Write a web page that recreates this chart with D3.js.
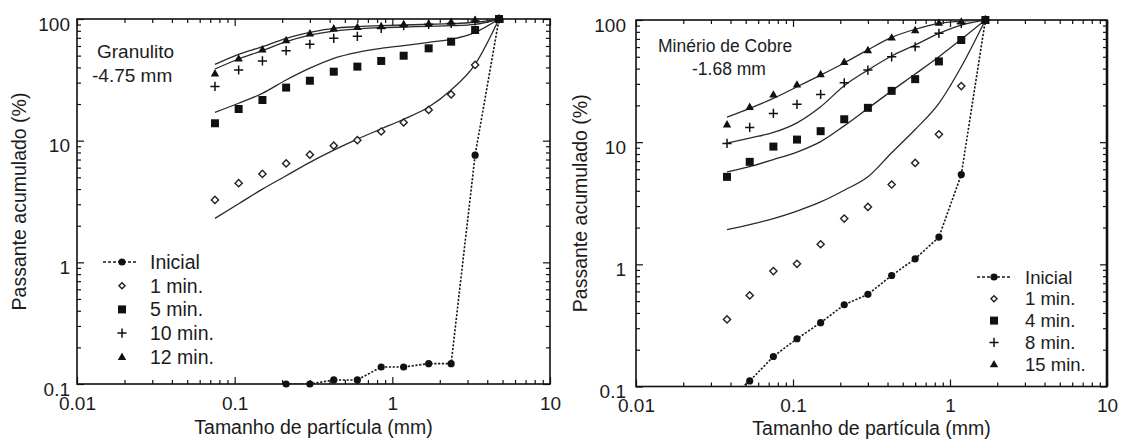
<!DOCTYPE html>
<html>
<head>
<meta charset="utf-8">
<script src="https://cdn.jsdelivr.net/npm/d3@7"></script>
<style>
  body { margin: 0; background: #fff; }
  svg text { font-family: "Liberation Sans", Arial, Helvetica, sans-serif; fill: #1c1c1c; }
</style>
</head>
<body>
<svg id="chart" width="1124" height="439"></svg>
<script>
// ---------- Granulito -4.75 mm ----------
const granSizes   = [0.075, 0.106, 0.15, 0.212, 0.3, 0.425, 0.6, 0.85, 1.18, 1.7, 2.36, 3.35, 4.75];
const granInicial = [null, null, null, 0.1, 0.1, 0.108, 0.108, 0.138, 0.138, 0.147, 0.147, 7.6, 100];
const gran1min    = [3.26, 4.47, 5.33, 6.5, 7.67, 9.1, 10.1, 11.9, 14.1, 17.9, 24, 41.9, 100];
const gran5min    = [13.9, 18.2, 21.6, 27.3, 31.1, 36.9, 40.6, 45.2, 49.9, 57.4, 65.1, 81.2, 100];
const gran10min   = [27.9, 38.1, 45.2, 54.9, 62, 69.4, 72.1, 83.9, 88.1, 90.4, 92, 96.3, 100];
const gran12min   = [35.8, 47.5, 56.4, 67.2, 76.3, 83.9, 86, 87.6, 91, 92, 95, 98.7, 100];
// model curves
const granFit1    = [2.3, 3.03, 4.0, 5.15, 6.64, 8.36, 10.3, 12.5, 15.0, 18.9, 26.1, 42.4, 100];
const granFit5    = [17.1, 20.3, 24.5, 31.5, 39.4, 47.5, 53.2, 57.4, 60.4, 64.3, 68, 77.6, 100];
const granFit10   = [38.8, 46.9, 54.9, 65.1, 73.8, 79.6, 82.8, 84.9, 85.9, 87.1, 88.1, 90.4, 100];
const granFit12   = [42.4, 51.3, 59.2, 69.4, 77.6, 83.9, 86.4, 88.1, 89.3, 90.4, 91.5, 94, 100];
const granLegend  = ["Inicial", "1 min.", "5 min.", "10 min.", "12 min."];
const granNote    = ["Granulito", "-4.75 mm"];

// ---------- Minério de Cobre -1.68 mm ----------
const cobreSizes   = [0.038, 0.053, 0.075, 0.106, 0.15, 0.212, 0.3, 0.425, 0.6, 0.85, 1.18, 1.68];
const cobreInicial = [0.078, 0.111, 0.176, 0.246, 0.333, 0.467, 0.568, 0.81, 1.11, 1.67, 5.43, 100];
const cobre1min    = [0.354, 0.557, 0.88, 1.01, 1.46, 2.37, 2.95, 4.5, 6.76, 11.6, 28.8, 100];
const cobre4min    = [5.2, 6.9, 9.2, 10.5, 12.3, 15.4, 19.1, 26.3, 32.8, 45.8, 68.6, 100];
const cobre8min    = [9.76, 13.2, 17.2, 20.4, 24.6, 30.6, 38.9, 50, 60.4, 77.8, 94, 100];
const cobre15min   = [14.0, 19.5, 24.6, 29.7, 36.1, 45.5, 56.8, 72.1, 82.8, 95, 97.5, 100];
// model curves
const cobreFit1    = [1.92, 2.11, 2.37, 2.73, 3.24, 4.04, 5.2, 8.2, 12.7, 20.8, 41.4, 100];
const cobreFit4    = [5.7, 6.3, 7.2, 8.3, 10.1, 13.6, 18.9, 26.3, 36.1, 50, 69.5, 100];
const cobreFit8    = [9.8, 10.8, 12.0, 14.4, 19.5, 29, 38.9, 50.7, 62.4, 77.8, 91, 100];
const cobreFit15   = [16, 18.9, 22.8, 28.4, 35.4, 44.5, 57, 72, 84, 94, 98, 100];
const cobreLegend  = ["Inicial", "1 min.", "4 min.", "8 min.", "15 min."];
const cobreNote    = ["Minério de Cobre", "-1.68 mm"];

// ---------- axes ----------
const xTickValues = [0.01, 0.1, 1, 10];
const xTickLabels = ["0.01", "0.1", "1", "10"];
const yTickValues = [0.1, 1, 10, 100];
const yTickLabels = ["0.1", "1", "10", "100"];
const xTitle = "Tamanho de partícula (mm)";
const yTitle = "Passante acumulado (%)";

// ---------- marker shapes (size = half width) ----------
const shapes = {
  circle:  { draw(c, s) { c.moveTo(s, 0); c.arc(0, 0, s, 0, 2 * Math.PI); } },
  diamond: { draw(c, s) { c.moveTo(0, -s); c.lineTo(s, 0); c.lineTo(0, s); c.lineTo(-s, 0); c.closePath(); } },
  square:  { draw(c, s) { c.rect(-s, -s, 2 * s, 2 * s); } },
  plus:    { draw(c, s) { c.moveTo(-s, 0); c.lineTo(s, 0); c.moveTo(0, -s); c.lineTo(0, s); } },
  triangle:{ draw(c, s) { c.moveTo(0, -s * 1.0); c.lineTo(s, s * 0.75); c.lineTo(-s, s * 0.75); c.closePath(); } }
};
const markerStyle = [
  { shape: "circle",   size: 3.6, fill: "#111", stroke: "none", sw: 0 },
  { shape: "diamond",  size: 3.6, fill: "#fff", stroke: "#222", sw: 1.4 },
  { shape: "square",   size: 4.0, fill: "#111", stroke: "none", sw: 0 },
  { shape: "plus",     size: 4.6, fill: "none", stroke: "#111", sw: 1.5 },
  { shape: "triangle", size: 4.2, fill: "#111", stroke: "none", sw: 0 }
];

const panels = [
  {
    id: "gran", left: 77, right: 550, top: 19, bottom: 384,
    sizes: granSizes, series: [granInicial, gran1min, gran5min, gran10min, gran12min],
    fits: [granFit1, granFit5, granFit10, granFit12],
    legend: granLegend, legX: 122, legTextX: 150, legY: 262, legStep: 23.7, legLine: [103, 138], legFont: 19.5,
    note: granNote, noteX: [97, 92], noteY: [58, 82], noteFont: 19,
    yPad: 7, xPad: 13, yTitleX: 19, xTitleY: 427, heavyRight: false
  },
  {
    id: "cobre", left: 636, right: 1107, top: 20, bottom: 386.5,
    sizes: cobreSizes, series: [cobreInicial, cobre1min, cobre4min, cobre8min, cobre15min],
    fits: [cobreFit1, cobreFit4, cobreFit8, cobreFit15],
    legend: cobreLegend, legX: 994, legTextX: 1025, legY: 277, legStep: 21.8, legLine: [977, 1010], legFont: 18.5,
    note: cobreNote, noteX: [658, 692], noteY: [52, 75], noteFont: 17.5,
    yPad: 10, xPad: 12, yTitleX: 580, xTitleY: 428, heavyRight: true
  }
];

const svg = d3.select("#chart");

function minorTicks(lo, hi) {
  const out = [];
  for (let d = lo; d < hi * 0.999; d *= 10) for (let k = 2; k <= 9; k++) out.push(d * k);
  return out;
}

function styleAxis(sel) {
  sel.select(".domain").remove();
  sel.selectAll(".tick line").attr("stroke", "#111").attr("stroke-width", 1.2);
}

panels.forEach(p => {
  const g = svg.append("g").attr("id", p.id);
  const x = d3.scaleLog().domain([0.01, 10]).range([p.left, p.right]);
  const y = d3.scaleLog().domain([0.1, 100]).range([p.bottom, p.top]);

  const clipId = "clip-" + p.id;
  svg.append("defs").append("clipPath").attr("id", clipId)
    .append("rect").attr("x", p.left).attr("y", p.top)
    .attr("width", p.right - p.left).attr("height", p.bottom - p.top);

  // minor ticks on all four sides
  const xMin = minorTicks(0.01, 10), yMin = minorTicks(0.1, 100);
  g.append("g").attr("transform", `translate(0,${p.bottom})`)
    .call(d3.axisBottom(x).tickValues(xMin).tickSize(-4).tickFormat("")).call(styleAxis);
  g.append("g").attr("transform", `translate(0,${p.top})`)
    .call(d3.axisTop(x).tickValues(xMin).tickSize(-4).tickFormat("")).call(styleAxis);
  g.append("g").attr("transform", `translate(${p.left},0)`)
    .call(d3.axisLeft(y).tickValues(yMin).tickSize(-4).tickFormat("")).call(styleAxis);
  g.append("g").attr("transform", `translate(${p.right},0)`)
    .call(d3.axisRight(y).tickValues(yMin).tickSize(-4).tickFormat("")).call(styleAxis);

  // major ticks with labels
  const xb = g.append("g").attr("transform", `translate(0,${p.bottom})`)
    .call(d3.axisBottom(x).tickValues(xTickValues).tickSize(-7).tickPadding(p.xPad)
      .tickFormat((d, i) => xTickLabels[i])).call(styleAxis);
  xb.selectAll("text").attr("font-size", 19).attr("fill", "#1c1c1c");
  g.append("g").attr("transform", `translate(0,${p.top})`)
    .call(d3.axisTop(x).tickValues(xTickValues).tickSize(-7).tickFormat("")).call(styleAxis);
  const yl = g.append("g").attr("transform", `translate(${p.left},0)`)
    .call(d3.axisLeft(y).tickValues(yTickValues).tickSize(-7).tickPadding(p.yPad)
      .tickFormat((d, i) => yTickLabels[i])).call(styleAxis);
  yl.selectAll("text").attr("font-size", 19).attr("dy", "0.58em").attr("fill", "#1c1c1c");
  g.append("g").attr("transform", `translate(${p.right},0)`)
    .call(d3.axisRight(y).tickValues(yTickValues).tickSize(-7).tickFormat("")).call(styleAxis);

  // frame
  g.append("rect").attr("x", p.left).attr("y", p.top)
    .attr("width", p.right - p.left).attr("height", p.bottom - p.top)
    .attr("fill", "none").attr("stroke", "#111").attr("stroke-width", 1.6);
  if (p.heavyRight) {
    g.append("line").attr("x1", p.right).attr("x2", p.right).attr("y1", p.top).attr("y2", p.bottom)
      .attr("stroke", "#111").attr("stroke-width", 2.6);
  }

  // titles
  g.append("text").attr("x", (p.left + p.right) / 2).attr("y", p.xTitleY)
    .attr("text-anchor", "middle").attr("dominant-baseline", "central")
    .attr("font-size", 19.5).text(xTitle);
  g.append("text")
    .attr("transform", `translate(${p.yTitleX},${(p.top + p.bottom) / 2}) rotate(-90)`)
    .attr("text-anchor", "middle").attr("dominant-baseline", "central")
    .attr("font-size", 19.5).text(yTitle);

  // annotation
  p.note.forEach((t, i) => {
    g.append("text").attr("x", p.noteX[i]).attr("y", p.noteY[i])
      .attr("font-size", p.noteFont).text(t);
  });

  const pts = arr => p.sizes.map((s, i) => ({ s, v: arr[i] })).filter(d => d.v != null);
  const line = d3.line().x(d => x(d.s)).y(d => y(d.v));
  const smooth = d3.line().x(d => x(d.s)).y(d => y(d.v)).curve(d3.curveMonotoneX);

  const plot = g.append("g").attr("clip-path", `url(#${clipId})`);
  // model curves
  p.fits.forEach(f => {
    plot.append("path").datum(pts(f)).attr("d", smooth)
      .attr("fill", "none").attr("stroke", "#2a2a2a").attr("stroke-width", 1.3);
  });
  // initial distribution (dotted)
  plot.append("path").datum(pts(p.series[0])).attr("d", line)
    .attr("fill", "none").attr("stroke", "#1a1a1a").attr("stroke-width", 1.6)
    .attr("stroke-dasharray", "2.2,1.6");

  // markers
  p.series.forEach((arr, si) => {
    const st = markerStyle[si];
    const sym = d3.symbol().type(shapes[st.shape]).size(st.size);
    g.append("g").selectAll("path")
      .data(pts(arr).filter(d => d.v >= 0.1))
      .join("path")
      .attr("transform", d => `translate(${x(d.s)},${y(d.v)})`)
      .attr("d", sym)
      .attr("fill", st.fill).attr("stroke", st.stroke).attr("stroke-width", st.sw);
  });

  // legend
  const leg = g.append("g");
  p.legend.forEach((lab, i) => {
    const ly = p.legY + i * p.legStep;
    const st = markerStyle[i];
    if (i === 0) {
      leg.append("line").attr("x1", p.legLine[0]).attr("x2", p.legLine[1]).attr("y1", ly).attr("y2", ly)
        .attr("stroke", "#1a1a1a").attr("stroke-width", 1.5).attr("stroke-dasharray", "3,2");
    }
    leg.append("path").attr("transform", `translate(${p.legX},${ly})`)
      .attr("d", d3.symbol().type(shapes[st.shape]).size(i === 1 ? st.size * 0.85 : st.size)())
      .attr("fill", st.fill).attr("stroke", st.stroke).attr("stroke-width", st.sw);
    leg.append("text").attr("x", p.legTextX).attr("y", ly)
      .attr("dominant-baseline", "central").attr("font-size", p.legFont).text(lab);
  });
});
</script>
</body>
</html>
